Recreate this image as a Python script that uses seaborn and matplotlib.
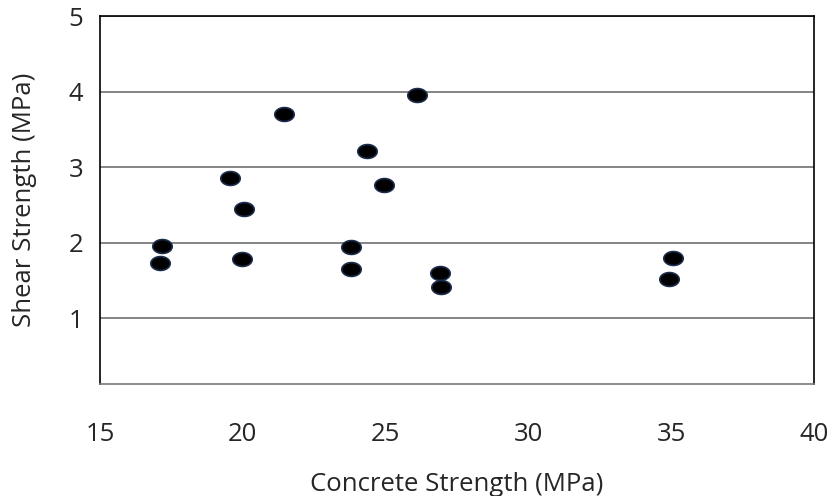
import numpy as np
import pandas as pd
import seaborn as sns
import matplotlib
matplotlib.use('Agg')
import matplotlib.pyplot as plt
from matplotlib.path import Path

# values
concrete_mpa = [17.16, 17.09, 19.55, 20.03, 19.96, 21.43, 23.78, 23.78,
                24.34, 24.94, 26.09, 26.90, 26.93, 35.05, 34.92]
shear_mpa = [1.95, 1.73, 2.86, 2.44, 1.78, 3.70, 1.94, 1.65,
             3.22, 2.77, 3.96, 1.60, 1.41, 1.80, 1.52]
x_ticks = [15, 20, 25, 30, 35, 40]
y_ticks = [1, 2, 3, 4, 5]

df = pd.DataFrame({'Concrete Strength (MPa)': concrete_mpa,
                   'Shear Strength (MPa)': shear_mpa})

sns.set_style('white')
plt.rcParams['font.family'] = ['Open Sans', 'DejaVu Sans']

# flat ellipse marker like the original
t = np.linspace(0, 2 * np.pi, 60)
ellipse = Path(np.column_stack([1.4 * np.cos(t), np.sin(t)]), closed=True)

fig = plt.figure(figsize=(8.37, 4.96), dpi=100)
ax = fig.add_axes([0.1195, 0.2258, 0.853, 0.7419])

sns.scatterplot(data=df, x='Concrete Strength (MPa)', y='Shear Strength (MPa)',
                marker=ellipse, s=195, color='black', edgecolor='#1c2c4c',
                linewidth=1.2, ax=ax, zorder=3)

ax.set_xlim(15, 40)
ax.set_ylim(0.13, 5)
ax.set_xticks(x_ticks)
ax.set_yticks(y_ticks)
ax.yaxis.grid(True, color='#707070', linewidth=1.2)
ax.xaxis.grid(False)

for side in ['left', 'top', 'right']:
    ax.spines[side].set_color('black')
    ax.spines[side].set_linewidth(1.2)
ax.spines['bottom'].set_color('#7a7a7a')
ax.spines['bottom'].set_linewidth(1.2)

ax.tick_params(axis='x', length=0, pad=27, labelsize=18.5)
ax.tick_params(axis='y', length=0, pad=12, labelsize=18.5)

ax.set_xlabel('Concrete Strength (MPa)', fontsize=18.5)
ax.set_ylabel('Shear Strength (MPa)', fontsize=18.5)
ax.xaxis.set_label_coords(0.5, -0.238)
ax.yaxis.set_label_coords(-0.088, 0.5)

fig.savefig('out.png', dpi=100)
